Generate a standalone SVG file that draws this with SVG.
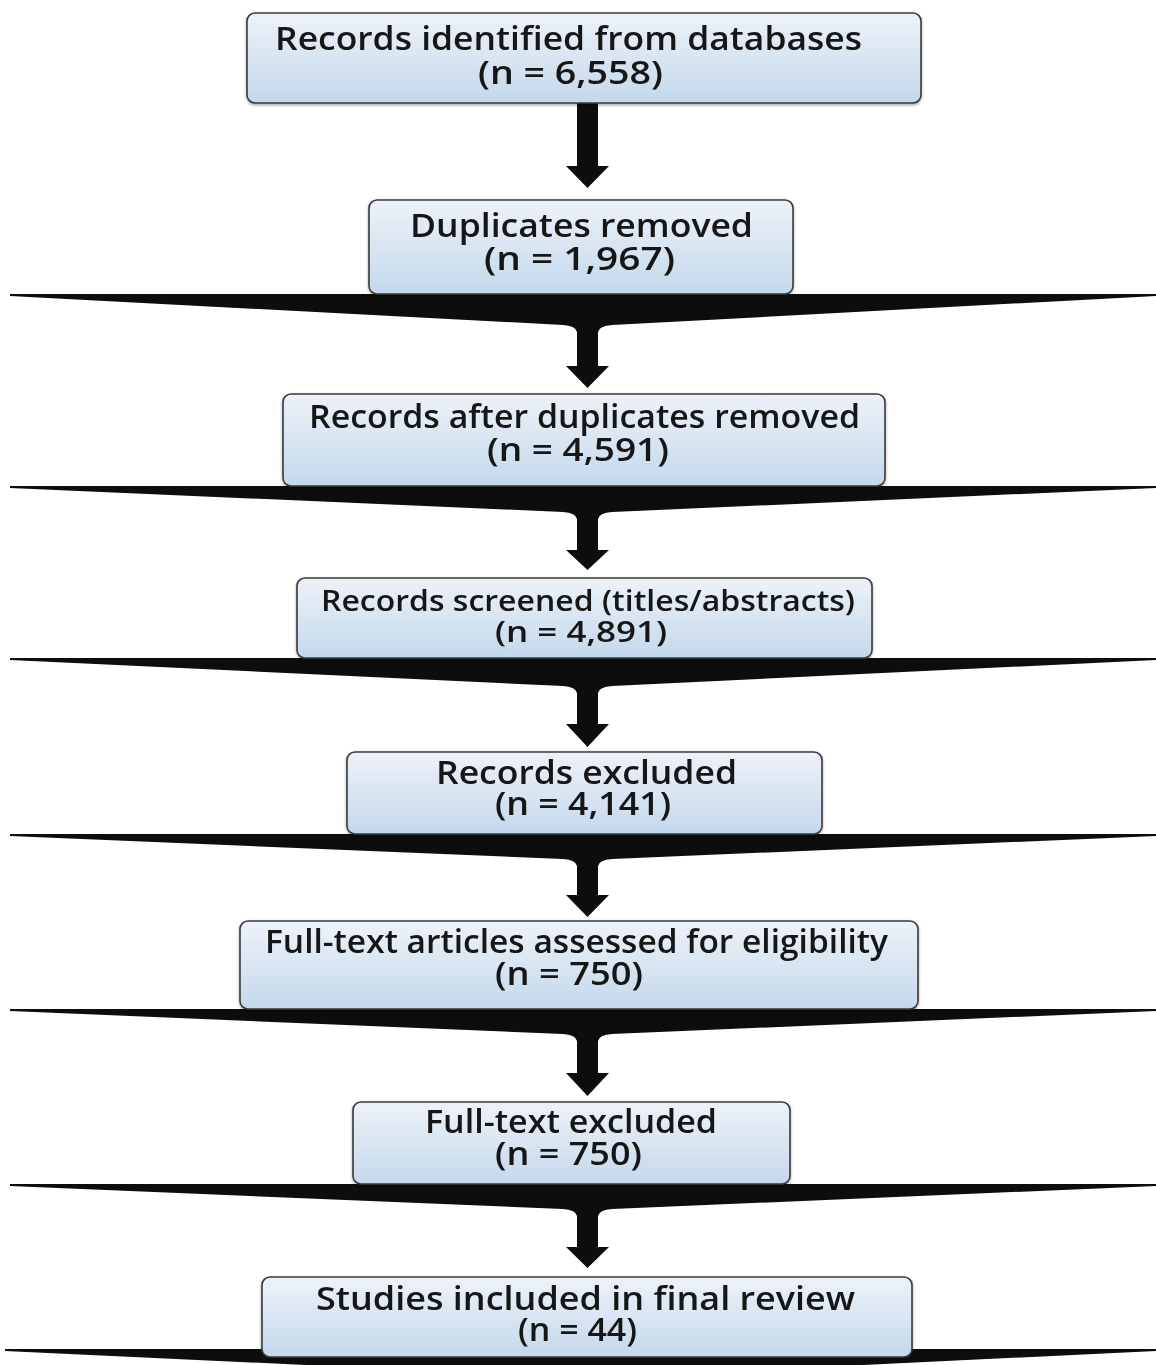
<svg xmlns="http://www.w3.org/2000/svg" width="1156" height="1365" viewBox="0 0 1156 1365">
<style>
.box{fill:url(#g);stroke:#3a3a3a;stroke-width:1.6}
.t{font-family:"Open Sans","Liberation Sans",sans-serif;font-weight:600;font-size:32px;fill:#161616;text-anchor:middle}
.s{font-size:29px}
.w{fill:#0d0d0d}
</style>
<defs>
<linearGradient id="g" x1="0" y1="0" x2="0" y2="1">
<stop offset="0" stop-color="#edf2f8"/>
<stop offset="1" stop-color="#c4d8ec"/>
</linearGradient>
<filter id="sh" x="-5%" y="-10%" width="110%" height="130%">
<feDropShadow dx="0" dy="1.5" stdDeviation="1.5" flood-color="#000" flood-opacity="0.35"/>
</filter>
</defs>
<rect width="1156" height="1365" fill="#ffffff"/>
<g id="connectors">
<path class="w" d="M577,103 L598,103 L598,166 L609,166 L587.5,188 L566,166 L577,166 Z"/>
<path class="w" d="M10,294 L1156,294 L1156,296 L612,325 Q599,326 598,332 L598,366 L609,366 L587.5,388 L566,366 L577,366 L577,332 Q576,326 563,325 L10,296 Z"/>
<path class="w" d="M10,486 L1156,486 L1156,488 L612,512 Q599,513 598,519 L598,550 L609,550 L587.5,570 L566,550 L577,550 L577,519 Q576,513 563,512 L10,488 Z"/>
<path class="w" d="M10,658 L1156,658 L1156,660 L612,686 Q599,687 598,693 L598,724 L609,724 L587.5,747 L566,724 L577,724 L577,693 Q576,687 563,686 L10,660 Z"/>
<path class="w" d="M10,834 L1156,834 L1156,836 L612,859 Q599,860 598,866 L598,895 L609,895 L587.5,917 L566,895 L577,895 L577,866 Q576,860 563,859 L10,836 Z"/>
<path class="w" d="M10,1009 L1156,1009 L1156,1011 L612,1034 Q599,1035 598,1041 L598,1073 L609,1073 L587.5,1096 L566,1073 L577,1073 L577,1041 Q576,1035 563,1034 L10,1011 Z"/>
<path class="w" d="M10,1184 L1156,1184 L1156,1186 L612,1209 Q599,1210 598,1216 L598,1247 L609,1247 L587.5,1268 L566,1247 L577,1247 L577,1216 Q576,1210 563,1209 L10,1186 Z"/>
<path class="w" d="M5,1349 L1156,1349 L1156,1351 L612,1377 Q599,1378 598,1384 L577,1384 Q576,1378 563,1377 L5,1351 Z"/>
</g>
<g id="n1" filter="url(#sh)"><rect class="box" x="247" y="13" width="674" height="90" rx="8"/>
<text class="t" x="568.5" y="50" textLength="587" lengthAdjust="spacingAndGlyphs">Records identified from databases</text>
<text class="t" x="570.5" y="84" textLength="185" lengthAdjust="spacingAndGlyphs">(n = 6,558)</text></g>
<g id="n2" filter="url(#sh)"><rect class="box" x="369" y="200" width="424" height="94" rx="8"/>
<text class="t" x="581.5" y="237" textLength="343" lengthAdjust="spacingAndGlyphs">Duplicates removed</text>
<text class="t" x="579.5" y="270" textLength="191" lengthAdjust="spacingAndGlyphs">(n = 1,967)</text></g>
<g id="n3" filter="url(#sh)"><rect class="box" x="283" y="394" width="602" height="92" rx="8"/>
<text class="t" x="584.5" y="428" textLength="551" lengthAdjust="spacingAndGlyphs">Records after duplicates removed</text>
<text class="t" x="578" y="461" textLength="182" lengthAdjust="spacingAndGlyphs">(n = 4,591)</text></g>
<g id="n4" filter="url(#sh)"><rect class="box" x="297" y="578" width="575" height="80" rx="8"/>
<text class="t s" x="588" y="611" textLength="534" lengthAdjust="spacingAndGlyphs">Records screened (titles/abstracts)</text>
<text class="t s" x="581" y="642" textLength="172" lengthAdjust="spacingAndGlyphs">(n = 4,891)</text></g>
<g id="n5" filter="url(#sh)"><rect class="box" x="347" y="752" width="475" height="82" rx="8"/>
<text class="t" x="586.5" y="784" textLength="301" lengthAdjust="spacingAndGlyphs">Records excluded</text>
<text class="t" x="583" y="815" textLength="176" lengthAdjust="spacingAndGlyphs">(n = 4,141)</text></g>
<g id="n6" filter="url(#sh)"><rect class="box" x="240" y="921" width="678" height="88" rx="8"/>
<text class="t" x="576.5" y="953" textLength="623" lengthAdjust="spacingAndGlyphs">Full-text articles assessed for eligibility</text>
<text class="t" x="569" y="985" textLength="148" lengthAdjust="spacingAndGlyphs">(n = 750)</text></g>
<g id="n7" filter="url(#sh)"><rect class="box" x="353" y="1102" width="437" height="82" rx="8"/>
<text class="t" x="571" y="1133" textLength="292" lengthAdjust="spacingAndGlyphs">Full-text excluded</text>
<text class="t" x="568.5" y="1165" textLength="147" lengthAdjust="spacingAndGlyphs">(n = 750)</text></g>
<g id="n8" filter="url(#sh)"><rect class="box" x="262" y="1277" width="650" height="80" rx="8"/>
<text class="t" x="585.5" y="1310" textLength="539" lengthAdjust="spacingAndGlyphs">Studies included in final review</text>
<text class="t" x="577.5" y="1341" textLength="119" lengthAdjust="spacingAndGlyphs">(n = 44)</text></g>
</svg>
